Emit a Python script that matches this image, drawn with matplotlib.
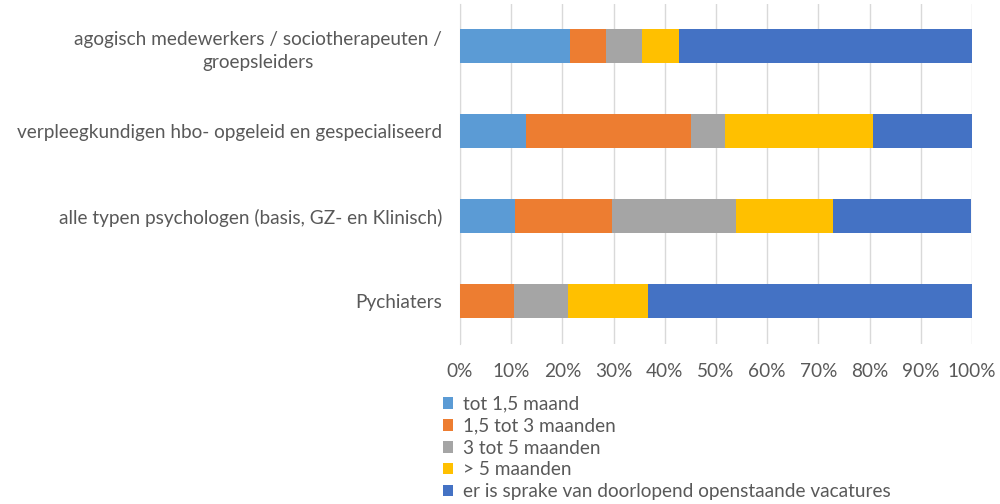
import matplotlib
matplotlib.use("Agg")
import matplotlib.pyplot as plt
from matplotlib.ticker import PercentFormatter

# categories, bottom to top as drawn
categories = [
    "Pychiaters",
    "alle typen psychologen (basis, GZ- en Klinisch)",
    "verpleegkundigen hbo- opgeleid en gespecialiseerd",
    "agogisch medewerkers / sociotherapeuten /\ngroepsleiders",
]
series_names = [
    "tot 1,5 maand",
    "1,5 tot 3 maanden",
    "3 tot 5 maanden",
    "> 5 maanden",
    "er is sprake van doorlopend openstaande vacatures",
]
# percentages per series, same order as categories
tot_1_5 = [0.0, 10.8, 12.9, 21.4]
tot_3 = [10.5, 18.9, 32.3, 7.1]
tot_5 = [10.5, 24.3, 6.5, 7.1]
meer_5 = [15.8, 18.9, 29.0, 7.1]
doorlopend = [63.2, 27.0, 19.4, 57.3]
series = [tot_1_5, tot_3, tot_5, meer_5, doorlopend]
colors = ["#5B9BD5", "#ED7D31", "#A5A5A5", "#FFC000", "#4472C4"]

plt.rcParams["font.family"] = ["Lato", "DejaVu Sans"]
txt = "#595959"
fs = 13.7

fig = plt.figure(figsize=(10, 5.04), dpi=100)
ax = fig.add_axes([0.46, 0.3175, 0.512, 0.675])

left = [0.0] * len(categories)
ys = range(len(categories))
for name, vals, c in zip(series_names, series, colors):
    ax.barh(ys, vals, left=left, height=0.4, color=c, label=name, zorder=3)
    left = [l + v for l, v in zip(left, vals)]

ax.set_xlim(0, 100)
ax.set_ylim(-0.5, len(categories) - 0.5)
ax.set_xticks(range(0, 101, 10))
ax.xaxis.set_major_formatter(PercentFormatter(decimals=0))
ax.set_yticks(list(ys))
ax.set_yticklabels(categories, multialignment="center", linespacing=1.45)
ax.tick_params(axis="y", length=0, pad=13, labelsize=fs, labelcolor=txt)
ax.tick_params(axis="x", length=0, pad=14, labelsize=fs, labelcolor=txt)
ax.grid(axis="x", color="#D9D9D9", lw=1, zorder=0)
for s in ["top", "right", "bottom"]:
    ax.spines[s].set_visible(False)
ax.spines["left"].set_color("#D9D9D9")

leg = fig.legend(loc="upper left", bbox_to_anchor=(0.443, 0.215), frameon=False,
                 fontsize=fs, labelcolor=txt, handlelength=0.55, handleheight=0.55,
                 handletextpad=0.5, labelspacing=0.26, borderaxespad=0, borderpad=0)

fig.savefig("out.png", dpi=100)
